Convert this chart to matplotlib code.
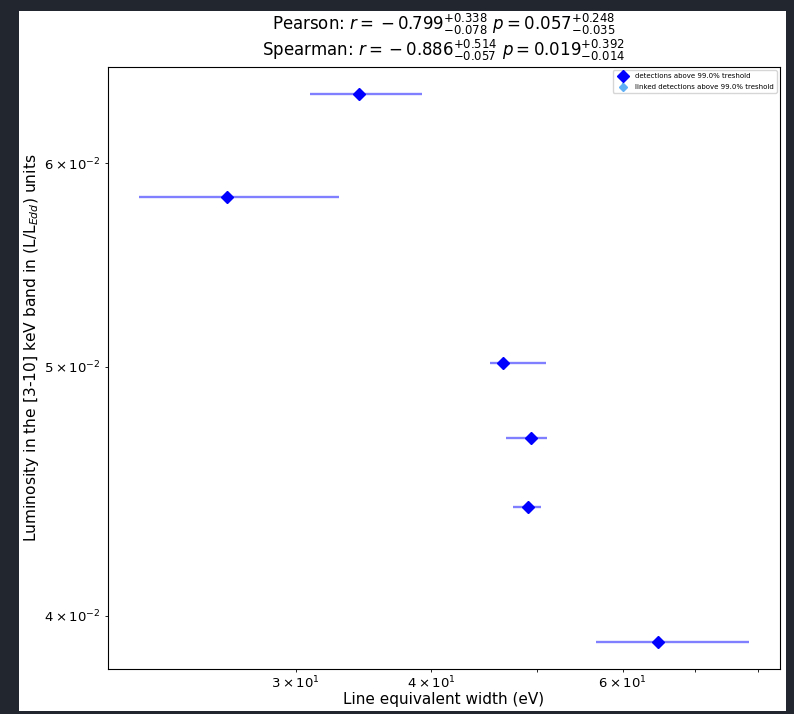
import numpy as np
import matplotlib
matplotlib.use('Agg')
import matplotlib.pyplot as plt
from matplotlib.patches import Rectangle

# equivalent widths (eV) with asymmetric errors, and luminosities (L/L_Edd)
ew = np.array([25.95, 34.3, 46.6, 49.4, 49.1, 64.6])
ew_lo = np.array([21.5, 30.9, 45.3, 46.9, 47.6, 56.7])
ew_hi = np.array([32.9, 39.2, 51.0, 51.1, 50.5, 78.5])
lum = np.array([0.05818, 0.06381, 0.05018, 0.04691, 0.04410, 0.03908])

pearson = (-0.799, 0.338, 0.078, 0.057, 0.248, 0.035)
spearman = (-0.886, 0.514, 0.057, 0.019, 0.392, 0.014)
thresh = 99.0

fig = plt.figure(figsize=(7.94, 7.14), dpi=100, facecolor='#22262e')
# white canvas of the screenshot
fig.patches.append(Rectangle((19/794, 1-711/714), (786-19)/794, (711-11)/714,
                             transform=fig.transFigure, facecolor='white',
                             edgecolor='none', zorder=-10))
ax = fig.add_axes([108/794, 1-669/714, (780-108)/794, (669-67)/714])

xerr = np.array([ew - ew_lo, ew_hi - ew])
ax.errorbar(ew, lum, xerr=xerr, fmt='none', ecolor='blue', alpha=0.5, elinewidth=1.7)
ax.plot(ew, lum, 'D', color='blue', ms=6, ls='none',
        label='detections above %.1f%% treshold' % thresh)
ax.errorbar([np.nan], [np.nan], yerr=[np.nan], fmt='D', color='#5fb0f5', ms=4,
            label='linked detections above %.1f%% treshold' % thresh)

ax.set_xscale('log')
ax.set_yscale('log')
ax.set_xlabel('Line equivalent width (eV)', fontsize=11, labelpad=0.5)
ax.set_ylabel(r'Luminosity in the [3-10] keV band in (L/L$_{Edd}$) units',
              fontsize=11.2, labelpad=2.5)
ax.yaxis.label.set_y(0.533)
ax.tick_params(which='both', labelsize=9.5)
ax.tick_params(axis='x', which='both', pad=2)

def stat_line(name, s):
    return (r'%s: $r={}%s%.3f^{+%.3f}_{-%.3f}\ p=%.3f^{+%.3f}_{-%.3f}$'
            % (name, '-' if s[0] < 0 else '', abs(s[0]), s[1], s[2], s[3], s[4], s[5]))

title = stat_line('Pearson', pearson) + '\n' + stat_line('Spearman', spearman)
ax.set_title(title, fontsize=12, linespacing=1.05, pad=8)
ax.legend(loc='upper right', fontsize=5, labelspacing=0.7)

fig.savefig('out.png', dpi=100, facecolor=fig.get_facecolor())
